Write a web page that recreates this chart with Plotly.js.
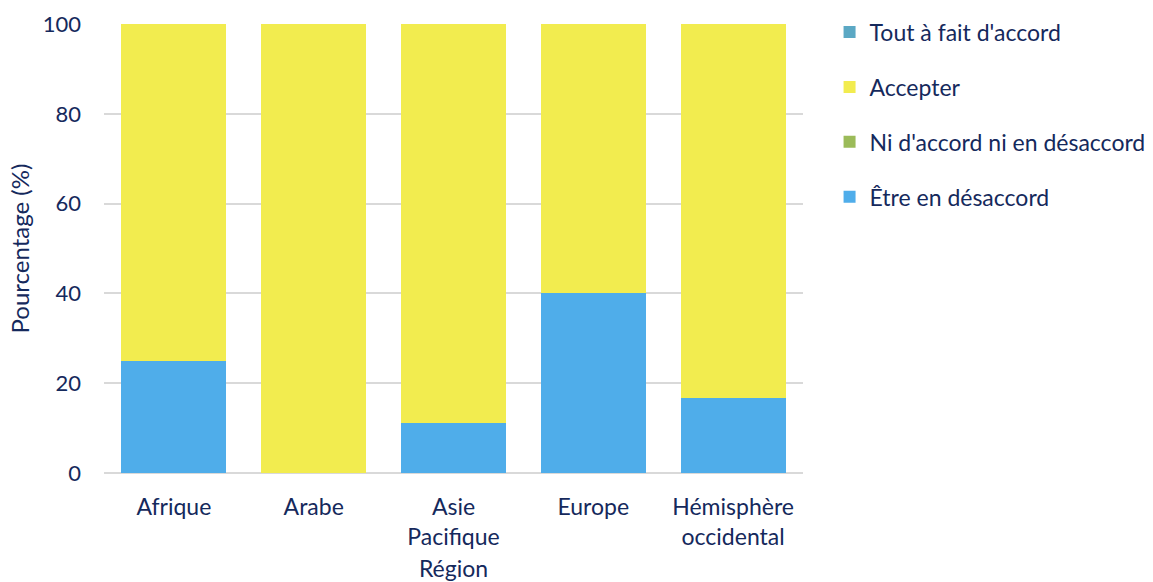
<!DOCTYPE html>
<html>
<head>
<meta charset="utf-8">
<script src="https://cdn.plot.ly/plotly-3.0.1.min.js"></script>
<style>html,body{margin:0;padding:0;background:#fff;}#chart{width:1153px;height:582px;}</style>
</head>
<body>
<div id="chart"></div>
<script>
const regions = ["Afrique", "Arabe", "Asie<br>Pacifique", "Europe", "Hémisphère<br>occidental"];
const seriesNames = ["Tout à fait d'accord", "Accepter", "Ni d'accord ni en désaccord", "Être en désaccord"];
const toutAFait = [0, 0, 0, 0, 0];
const accepter = [75, 100, 88.9, 60, 83.3];
const niDaccord = [0, 0, 0, 0, 0];
const desaccord = [25, 0, 11.1, 40, 16.7];
const colors = ["#5BA8C4", "#F2EC4F", "#9BBB59", "#4FADEA"];

const textColor = "#15295C";
const font = "Lato, 'Open Sans', sans-serif";

// stack order bottom -> top: désaccord, ni, accepter, tout à fait
const stackValues = [desaccord, niDaccord, accepter, toutAFait];
const stackIdx = [3, 2, 1, 0];
const legendRank = [4, 3, 2, 1];

const data = stackValues.map((vals, i) => ({
  type: "bar",
  x: regions,
  y: vals,
  name: seriesNames[stackIdx[i]],
  marker: {color: colors[stackIdx[i]]},
  legendgroup: "g" + i,
  legendrank: legendRank[i],
  hoverinfo: "x+y+name"
}));

const layout = {
  width: 1153,
  height: 582,
  margin: {l: 104, r: 350, t: 24, b: 109, autoexpand: false},
  barmode: "stack",
  bargap: 0.25,
  paper_bgcolor: "#ffffff",
  plot_bgcolor: "#ffffff",
  font: {family: font, color: textColor, size: 22},
  xaxis: {
    type: "category",
    showgrid: false,
    zeroline: false,
    showline: false,
    ticks: "",
    ticklabelstandoff: 18,
    tickfont: {size: 23, color: textColor},
    title: {text: "Région", font: {size: 23, color: textColor}, standoff: 16}
  },
  yaxis: {
    range: [0, 100],
    dtick: 20,
    showgrid: true,
    gridcolor: "#D9D9D9",
    gridwidth: 1.5,
    zeroline: true,
    zerolinecolor: "#D9D9D9",
    zerolinewidth: 1.5,
    showline: false,
    ticks: "",
    ticklabelstandoff: 22,
    tickfont: {size: 22, color: textColor},
    title: {text: "Pourcentage (%)", font: {size: 24, color: textColor}, standoff: 6}
  },
  legend: {
    x: 1.038,
    y: 1.03,
    xanchor: "left",
    yanchor: "top",
    traceorder: "grouped",
    tracegroupgap: 22,
    font: {size: 23, color: textColor},
    bgcolor: "rgba(0,0,0,0)"
  },
  showlegend: true
};

Plotly.newPlot("chart", data, layout, {displayModeBar: false, responsive: false});
</script>
</body>
</html>
